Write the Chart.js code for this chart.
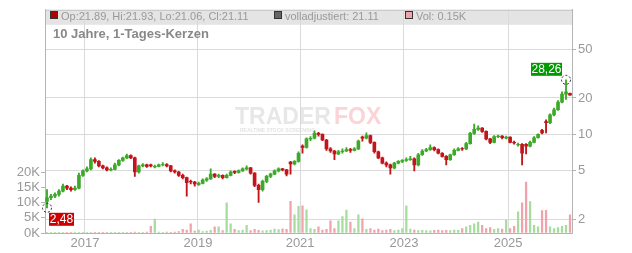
<!DOCTYPE html>
<html>
<head>
<meta charset="utf-8">
<script src="https://cdn.jsdelivr.net/npm/chart.js@4.4.1/dist/chart.umd.min.js"></script>
<style>
html, body { margin: 0; padding: 0; background: #fff; }
#wrap { width: 632px; height: 253px; }
</style>
</head>
<body>
<div id="wrap"><canvas id="grafica" width="632" height="253"></canvas></div>
<script>
// Kerzen (ca. 4 px pro Kerze)
const apertura = [2.80, 3.00, 3.10, 3.20, 3.40, 3.75, 3.60, 3.50, 3.60, 4.60, 5.00, 5.20, 6.20, 6.00, 5.50, 5.30, 5.10, 5.15, 5.60, 6.10,
  6.40, 6.70, 6.40, 4.90, 5.50, 5.60, 5.60, 5.40, 5.45, 5.60, 5.65, 5.50, 5.00, 4.90, 4.60, 4.40, 4.10, 4.05, 3.85, 3.95,
  4.20, 4.30, 4.70, 4.50, 4.60, 4.40, 4.60, 4.95, 4.85, 5.00, 5.20, 5.30, 4.80, 3.80, 3.50, 4.10, 4.50, 4.70, 5.00, 5.20,
  5.10, 5.90, 5.70, 6.00, 8.00, 7.80, 9.20, 9.30, 10.20, 10.00, 9.00, 7.60, 7.30, 6.90, 7.20, 7.30, 7.50, 7.40, 7.60, 9.50,
  9.30, 9.80, 8.60, 7.20, 6.40, 5.80, 5.60, 5.30, 5.80, 6.00, 6.10, 6.20, 6.30, 5.60, 6.80, 7.30, 7.50, 7.80, 7.50, 7.00,
  6.60, 6.20, 6.80, 7.40, 7.65, 7.60, 8.40, 10.20, 11.00, 11.30, 10.60, 9.20, 8.60, 9.60, 9.70, 9.30, 9.50, 8.60, 8.20, 8.30,
  8.30, 8.00, 8.60, 9.40, 10.80, 12.80, 12.50, 14.50, 16.00, 18.50, 21.50, 21.89];
const maximo = [3.50, 3.20, 3.30, 3.50, 3.90, 3.80, 3.70, 3.75, 4.80, 5.10, 5.40, 6.40, 6.40, 6.10, 5.60, 5.40, 5.30, 5.80, 6.20, 6.50,
  6.90, 6.80, 6.50, 5.60, 5.75, 5.70, 5.70, 5.60, 5.70, 5.85, 5.75, 5.55, 5.10, 4.95, 4.70, 4.45, 4.20, 4.10, 4.05, 4.30,
  4.40, 5.20, 4.75, 4.70, 4.65, 4.70, 5.00, 5.00, 5.10, 5.30, 5.50, 5.35, 4.85, 3.90, 4.20, 4.60, 4.80, 5.10, 5.30, 5.25,
  5.15, 6.00, 6.10, 7.20, 8.20, 9.40, 9.60, 10.70, 10.40, 10.10, 9.10, 7.80, 7.40, 7.40, 7.60, 7.80, 7.70, 7.80, 9.00, 9.70,
  10.30, 9.90, 8.70, 7.30, 6.50, 5.95, 5.70, 5.90, 6.10, 6.20, 6.40, 6.60, 6.40, 7.00, 7.50, 7.70, 8.20, 7.90, 7.60, 7.10,
  6.70, 6.90, 7.60, 7.80, 7.80, 8.60, 10.40, 12.20, 11.80, 11.40, 10.70, 9.30, 9.80, 9.90, 9.80, 9.70, 9.55, 8.80, 8.50, 8.40,
  8.40, 8.80, 9.60, 10.10, 11.00, 13.20, 14.80, 16.50, 19.00, 22.50, 28.26, 21.93];
const minimo = [2.48, 2.90, 3.00, 3.10, 3.35, 3.50, 3.40, 3.45, 3.55, 4.50, 4.90, 5.10, 5.80, 5.40, 5.20, 5.00, 5.00, 5.10, 5.50, 6.00,
  6.30, 6.30, 4.50, 4.80, 5.40, 5.35, 5.40, 5.30, 5.40, 5.50, 5.40, 4.90, 4.80, 4.50, 4.30, 3.10, 3.90, 3.75, 3.80, 3.90,
  4.10, 4.25, 4.40, 4.40, 4.30, 4.35, 4.55, 4.75, 4.80, 4.95, 5.10, 4.70, 3.70, 2.75, 3.40, 4.00, 4.40, 4.65, 4.90, 5.00,
  4.55, 4.70, 5.60, 5.90, 7.00, 7.70, 8.90, 9.20, 9.70, 8.90, 7.40, 7.10, 6.20, 6.80, 7.00, 7.20, 7.10, 7.30, 7.50, 8.80,
  9.20, 8.40, 7.00, 6.30, 5.70, 5.40, 4.70, 5.20, 5.70, 5.85, 6.00, 6.10, 5.00, 5.50, 6.70, 7.20, 7.40, 7.30, 6.90, 6.50,
  5.60, 6.10, 6.70, 7.30, 7.40, 7.50, 8.30, 10.00, 10.80, 10.40, 9.00, 8.40, 8.50, 9.40, 9.20, 9.20, 8.50, 8.30, 8.00, 5.60,
  6.90, 7.90, 8.50, 9.30, 10.10, 10.30, 12.30, 14.20, 15.80, 18.20, 19.50, 21.06];
const cierre = [3.00, 3.10, 3.20, 3.40, 3.75, 3.60, 3.50, 3.60, 4.60, 5.00, 5.20, 6.20, 6.00, 5.50, 5.30, 5.10, 5.15, 5.60, 6.10, 6.40,
  6.70, 6.40, 4.90, 5.50, 5.60, 5.45, 5.50, 5.45, 5.60, 5.65, 5.50, 5.00, 4.90, 4.60, 4.40, 4.00, 4.05, 3.90, 3.95, 4.20,
  4.30, 4.70, 4.50, 4.60, 4.40, 4.60, 4.90, 4.85, 5.00, 5.20, 5.30, 4.80, 3.80, 3.50, 4.10, 4.50, 4.70, 5.00, 5.20, 5.10,
  4.70, 5.70, 6.00, 7.00, 7.80, 9.20, 9.30, 10.20, 10.00, 9.00, 7.60, 7.30, 6.90, 7.20, 7.30, 7.50, 7.40, 7.60, 8.80, 9.30,
  9.80, 8.60, 7.20, 6.40, 5.80, 5.60, 5.30, 5.80, 6.00, 6.10, 6.20, 6.30, 5.60, 6.80, 7.30, 7.50, 7.80, 7.50, 7.00, 6.60,
  6.20, 6.80, 7.40, 7.60, 7.60, 8.40, 10.20, 11.00, 11.30, 10.60, 9.20, 8.60, 9.60, 9.70, 9.40, 9.50, 8.60, 8.50, 8.30, 7.00,
  8.00, 8.60, 9.40, 10.00, 10.30, 12.50, 14.50, 16.00, 18.50, 21.50, 22.50, 21.11];
// Volumen in Tausend
const volumen = [0.1, 0.1, 0.1, 0.2, 0.1, 0.1, 0.1, 0.1, 0.2, 0.1, 0.2, 0.1, 0.1, 0.1, 0.1, 0.1, 0.1, 0.2, 0.1, 0.1,
  0.2, 0.1, 0.3, 0.2, 0.2, 0.3, 2.2, 4.6, 0.3, 0.2, 0.3, 0.2, 0.3, 0.5, 1.2, 1.0, 3.0, 0.6, 1.0, 0.5,
  0.6, 0.9, 2.0, 2.0, 0.8, 10.0, 3.0, 1.2, 0.8, 1.0, 2.5, 0.8, 1.2, 0.9, 0.7, 0.8, 1.0, 1.3, 1.1, 1.4,
  1.2, 10.5, 6.0, 8.8, 9.0, 7.7, 1.5, 1.2, 2.0, 1.0, 1.2, 4.0, 1.5, 4.0, 5.4, 7.6, 3.6, 1.5, 6.0, 4.7,
  1.2, 1.5, 1.0, 1.3, 0.8, 1.0, 1.2, 0.8, 1.0, 1.5, 9.0, 1.3, 1.0, 0.8, 0.9, 0.8, 0.7, 0.9, 1.0, 0.8,
  0.9, 0.8, 1.0, 0.9, 1.5, 2.0, 2.5, 3.0, 3.6, 2.5, 1.5, 1.8, 1.2, 1.5, 1.3, 4.3, 1.5, 2.2, 7.0, 10.0,
  16.8, 10.4, 2.5, 2.0, 7.4, 7.5, 2.0, 1.5, 1.8, 2.2, 2.5, 6.0];

const anios = ['2017', '2019', '2021', '2023', '2025'];
const posAnios = [9.5, 37.8, 63.4, 89.4, 115.5];
const preciosEje = [2, 5, 10, 20, 50];
const volEje = [0, 5, 10, 15, 20];
const volHoy = '0.15K';

const rojo = '#c2151b';
const verde = '#3caa28';
const rosa = '#f0a3ab';
const verdeClaro = '#a7dc9f';
const gris = '#999';
const fuente = '"Liberation Sans", Arial, sans-serif';

const indices = cierre.map((c, i) => i);
const sube = indices.map(i => cierre[i] >= apertura[i]);

const mechas = indices.map(i => ({ x: i, y: [minimo[i], maximo[i]] }));
const cuerpos = indices.map(i => ({ x: i, y: [Math.min(apertura[i], cierre[i]), Math.max(apertura[i], cierre[i]) + 0.001] }));
const barrasVol = indices.map(i => ({ x: i, y: volumen[i] }));

// indices del minimo y maximo
const iMin = minimo.indexOf(Math.min(...minimo));
const iMax = maximo.indexOf(Math.max(...maximo));

const circulo = (ctx, x, y) => {
    ctx.beginPath();
    ctx.setLineDash([2, 2]);
    ctx.strokeStyle = '#222';
    ctx.lineWidth = 1;
    ctx.arc(x, y, 4.5, 0, Math.PI * 2);
    ctx.stroke();
    ctx.setLineDash([]);
};

const etiqueta = (ctx, x, y, w, texto, color) => {
    ctx.fillStyle = color;
    ctx.fillRect(x, y, w, 13);
    ctx.fillStyle = '#fff';
    ctx.font = '12px ' + fuente;
    ctx.textAlign = 'center';
    ctx.textBaseline = 'middle';
    ctx.fillText(texto, x + w / 2, y + 7);
};

const cuadro = (ctx, x, y, color) => {
    ctx.fillStyle = color;
    ctx.fillRect(x + 0.5, y + 0.5, 7, 7);
    ctx.strokeStyle = '#333';
    ctx.lineWidth = 1;
    ctx.strokeRect(x + 0.5, y + 0.5, 7, 7);
};

const extras = {
    id: 'extras',
    beforeDraw(chart) {
        const { ctx, chartArea: a } = chart;
        ctx.save();
        ctx.fillStyle = '#e4e4e4';
        ctx.fillRect(a.left, a.top, a.right - a.left, 15);
        ctx.restore();
    },
    beforeDatasetsDraw(chart) {
        // marca de agua
        const { ctx } = chart;
        ctx.save();
        ctx.textBaseline = 'alphabetic';
        ctx.textAlign = 'left';
        ctx.font = 'bold 23px ' + fuente;
        ctx.fillStyle = 'rgba(215,215,215,0.6)';
        ctx.fillText('TRADER', 235, 124);
        ctx.fillStyle = 'rgba(245,170,175,0.5)';
        ctx.fillText('FOX', 334, 124);
        ctx.font = 'bold 5px ' + fuente;
        ctx.fillStyle = 'rgba(215,215,215,0.7)';
        ctx.fillText('REALTIME STOCK SCREENING', 240, 132);
        ctx.restore();
    },
    afterDatasetsDraw(chart) {
        const { ctx } = chart;
        const sx = chart.scales.x;
        const sy = chart.scales.y;
        ctx.save();
        const x1 = sx.getPixelForValue(iMin);
        const y1 = sy.getPixelForValue(minimo[iMin]);
        circulo(ctx, x1, y1);
        etiqueta(ctx, x1 + 2, y1 + 5, 25, minimo[iMin].toFixed(2).replace('.', ','), '#cc0000');
        const x2 = sx.getPixelForValue(iMax);
        const y2 = sy.getPixelForValue(maximo[iMax]);
        circulo(ctx, x2, y2);
        etiqueta(ctx, x2 - 35, y2 - 17, 31, maximo[iMax].toFixed(2).replace('.', ','), '#009900');
        ctx.restore();
    },
    afterDraw(chart) {
        const { ctx, chartArea: a } = chart;
        const n = cierre.length - 1;
        ctx.save();
        ctx.strokeStyle = '#c4c4c4';
        ctx.lineWidth = 1;
        ctx.beginPath();
        ctx.moveTo(a.left, a.top + 0.5);
        ctx.lineTo(a.right, a.top + 0.5);
        ctx.stroke();
        ctx.textAlign = 'left';
        ctx.textBaseline = 'alphabetic';
        cuadro(ctx, 50, 11, '#b30000');
        cuadro(ctx, 274, 11, '#666');
        cuadro(ctx, 405, 11, rosa);
        ctx.font = '11px ' + fuente;
        ctx.fillStyle = gris;
        ctx.fillText('Op:' + apertura[n] + ', Hi:' + maximo[n] + ', Lo:' + minimo[n] + ', Cl:' + cierre[n], 61, 19.5);
        ctx.fillText('volladjustiert: ' + cierre[n], 285, 19.5);
        ctx.fillText('Vol: ' + volHoy, 416, 19.5);
        ctx.font = 'bold 13px ' + fuente;
        ctx.fillStyle = '#888';
        ctx.fillText('10 Jahre, 1-Tages-Kerzen', 53, 38);
        ctx.restore();
    }
};

const ctx = document.getElementById('grafica').getContext('2d');
new Chart(ctx, {
    type: 'bar',
    data: {
        datasets: [
            {
                data: barrasVol,
                yAxisID: 'yv',
                grouped: false,
                barThickness: 1.6,
                backgroundColor: indices.map(i => sube[i] ? verdeClaro : rosa),
                order: 3
            },
            {
                data: mechas,
                yAxisID: 'y',
                grouped: false,
                barThickness: 1.2,
                backgroundColor: indices.map(i => sube[i] ? verde : rojo),
                order: 2
            },
            {
                data: cuerpos,
                yAxisID: 'y',
                grouped: false,
                barThickness: 3,
                backgroundColor: indices.map(i => sube[i] ? verde : rojo),
                order: 1
            }
        ]
    },
    options: {
        responsive: false,
        animation: false,
        devicePixelRatio: 1,
        layout: { padding: { top: 8, left: 0, right: 0, bottom: 0 } },
        plugins: {
            legend: { display: false },
            tooltip: { enabled: false }
        },
        scales: {
            x: {
                type: 'linear',
                offset: false,
                min: -0.5,
                max: cierre.length - 0.5,
                afterBuildTicks: (s) => { s.ticks = posAnios.map(v => ({ value: v })); },
                afterFit: (s) => { s.height = 20; },
                ticks: {
                    autoSkip: false,
                    maxRotation: 0,
                    padding: 3,
                    color: gris,
                    font: { family: fuente, size: 13 },
                    callback: (v, i) => anios[i]
                },
                grid: { color: '#dadada', drawTicks: false, offset: false },
                border: { color: '#b4b4b4' }
            },
            y: {
                type: 'logarithmic',
                position: 'right',
                min: 1.536,
                max: 106.96,
                afterBuildTicks: (s) => { s.ticks = preciosEje.map(v => ({ value: v })); },
                afterFit: (s) => { s.width = 60; },
                ticks: {
                    padding: 2,
                    color: gris,
                    font: { family: fuente, size: 13 },
                    callback: (v) => String(v)
                },
                grid: { color: '#dadada', tickLength: 4, tickColor: '#b4b4b4' },
                border: { color: '#b4b4b4' }
            },
            yv: {
                type: 'linear',
                position: 'left',
                min: 0,
                max: 73.8,
                afterBuildTicks: (s) => { s.ticks = volEje.map(v => ({ value: v })); },
                afterFit: (s) => { s.width = 45; },
                ticks: {
                    padding: 1,
                    color: gris,
                    font: { family: fuente, size: 13 },
                    callback: (v) => v + 'K'
                },
                grid: { drawOnChartArea: false, tickLength: 4, tickColor: '#b4b4b4' },
                border: { color: '#b4b4b4' }
            }
        }
    },
    plugins: [extras]
});
</script>
</body>
</html>
